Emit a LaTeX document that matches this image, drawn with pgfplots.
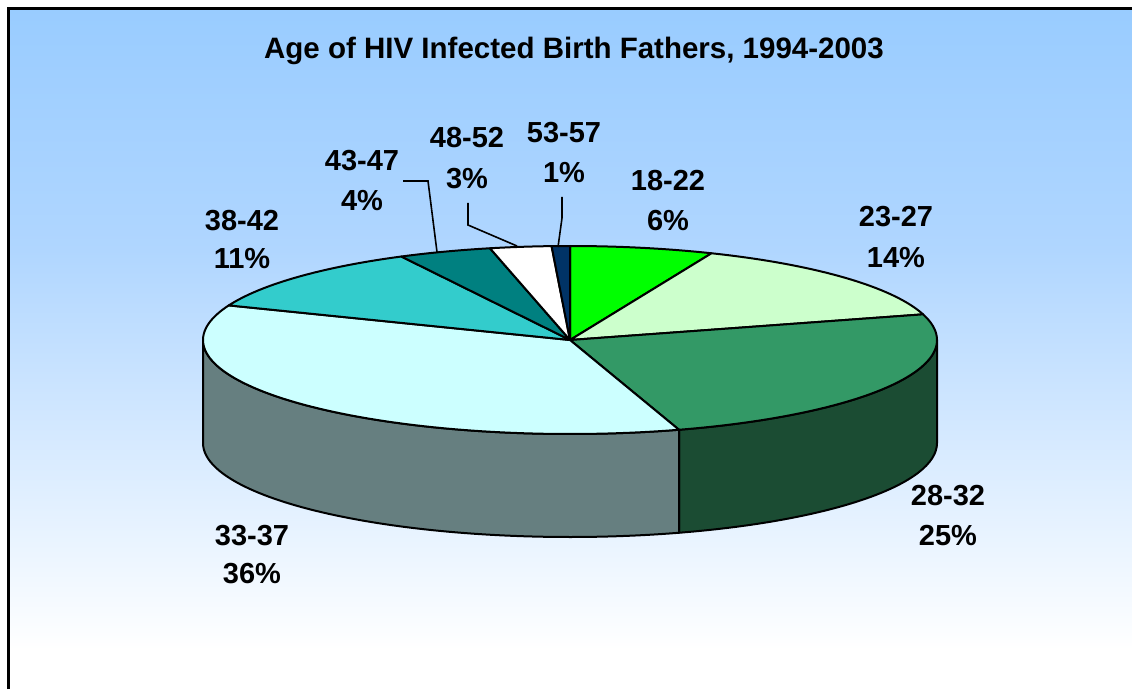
\documentclass[border=0pt]{standalone}
\usepackage{fontspec}
\setmainfont{Liberation Sans}
\usepackage{pgfplots}
\usepackage{pgfplotstable}
\pgfplotsset{compat=1.18}
\definecolor{bgtop}{HTML}{99CCFF}
\definecolor{bgmid}{HTML}{B0D6FF}
\definecolor{cA}{HTML}{00FF00}
\definecolor{cB}{HTML}{CCFFCC}
\definecolor{cC}{HTML}{339966}
\definecolor{cCs}{HTML}{1B4C33}
\definecolor{cD}{HTML}{CCFFFF}
\definecolor{cDs}{HTML}{667F80}
\definecolor{cE}{HTML}{33CCCC}
\definecolor{cF}{HTML}{008080}
\definecolor{cG}{HTML}{FFFFFF}
\definecolor{cH}{HTML}{003366}

% share of each age group (percent of all infected birth fathers)
\pgfplotstableread{
age   share shown
18-22 6.3   6
23-27 14.3  14
28-32 24.6  25
33-37 35.8  36
38-42 11.4  11
43-47 4.1   4
48-52 2.7   3
53-57 0.8   1
}\piedata

\def\cx{570}\def\cy{340}\def\rx{367}\def\ry{94}\def\dep{103}
\newcommand\nextangle[3]{\pgfplotstablegetelem{#1}{share}\of\piedata\pgfmathsetmacro#3{#2+3.6*\pgfplotsretval}}
\def\tA{0}
\nextangle{0}{\tA}{\tB}
\nextangle{1}{\tB}{\tC}
\nextangle{2}{\tC}{\tD}
\nextangle{3}{\tD}{\tE}
\nextangle{4}{\tE}{\tF}
\nextangle{5}{\tF}{\tG}
\nextangle{6}{\tG}{\tH}
\nextangle{7}{\tH}{\tI}

\newcommand\topslice[3]{\addplot[fill=#3, draw=black, line width=1pt, line join=round, domain=#1:#2, samples=80, variable=\t] ({\cx+\rx*sin(\t)},{\cy-\ry*cos(\t)}) -- (axis cs:\cx,\cy) -- cycle;}
\newcommand\sideslice[3]{\addplot[fill=#3, draw=black, line width=1pt, line join=round, domain=#1:#2, samples=80, variable=\t] ({\cx+\rx*sin(\t)},{\cy-\ry*cos(\t)}) -- (axis cs:{\cx+\rx*sin(#2)},{\cy-\ry*cos(#2)+\dep}) arc[start angle={90-#2}, end angle={90-#1}, x radius={\rx*0.5pt}, y radius={\ry*0.5pt}] -- cycle;}
\newcommand\lf{\fontsize{14.5}{17}\selectfont\bfseries}
\newcommand\tf{\fontsize{14.75}{17}\selectfont\bfseries}
\newcommand\plabel[5]{\node[anchor=base, font=\lf] at (axis cs:#1,#2) {#4};\node[anchor=base, font=\lf] at (axis cs:#1,#3) {#5};}

\begin{document}
\begin{tikzpicture}
\begin{axis}[width=566pt, height=344.5pt, scale only axis,
  xmin=0, xmax=1132, ymin=0, ymax=689, y dir=reverse, hide axis]
\fill[white] (axis cs:0,0) rectangle (axis cs:1132,689);
\shade[top color=bgtop, bottom color=bgmid] (axis cs:8.5,8.5) rectangle (axis cs:1132,251);
\shade[top color=bgmid, bottom color=white] (axis cs:8.5,249.5) rectangle (axis cs:1132,650);
\draw[line width=1.5pt] (axis cs:8,689) -- (axis cs:8,9) -- (axis cs:1132,9);

% side walls (front half only)
\sideslice{90}{\tD}{cCs}
\sideslice{\tD}{270}{cDs}
% top faces
\topslice{\tA}{\tB}{cA}
\topslice{\tB}{\tC}{cB}
\topslice{\tC}{\tD}{cC}
\topslice{\tD}{\tE}{cD}
\topslice{\tE}{\tF}{cE}
\topslice{\tF}{\tG}{cF}
\topslice{\tG}{\tH}{cG}
\topslice{\tH}{\tI}{cH}

% leader lines
\addplot[black, line width=0.8pt] coordinates {(403,181) (428,181) (437,252)};
\addplot[black, line width=0.8pt] coordinates {(468,203) (468,225) (517,246)};
\addplot[black, line width=0.8pt] coordinates {(562,197) (562,218) (558,247)};

\node[anchor=base, font=\tf] at (axis cs:574,59) {Age of HIV Infected Birth Fathers, 1994-2003};
\plabel{668}{191}{231}{18-22}{6\%}
\plabel{896}{227}{267}{23-27}{14\%}
\plabel{948}{505}{545}{28-32}{25\%}
\plabel{252}{545}{583}{33-37}{36\%}
\plabel{242}{231}{269}{38-42}{11\%}
\plabel{362}{171}{211}{43-47}{4\%}
\plabel{467}{148}{189}{48-52}{3\%}
\plabel{564}{143}{183}{53-57}{1\%}
\end{axis}
\end{tikzpicture}
\end{document}
